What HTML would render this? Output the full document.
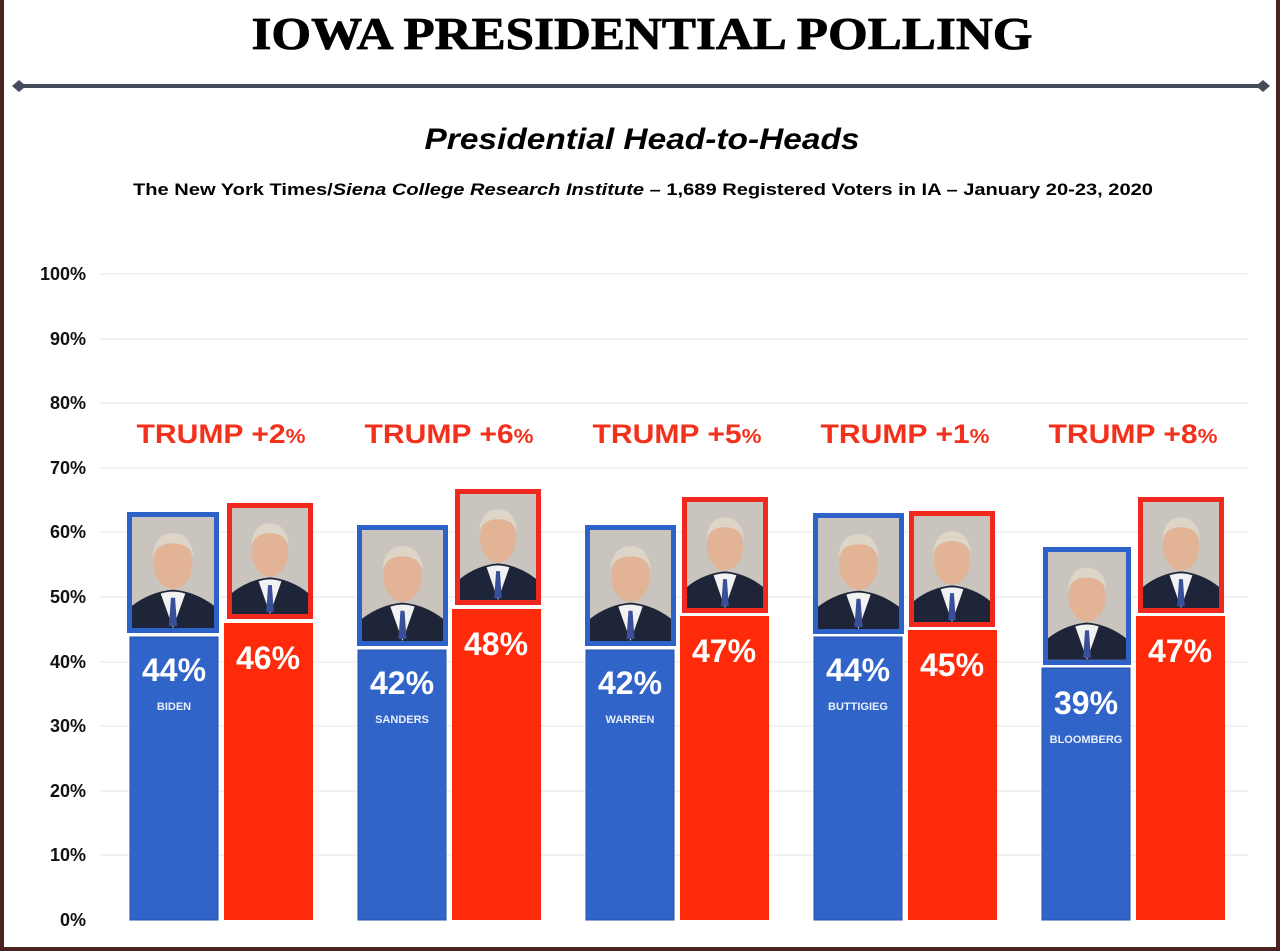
<!DOCTYPE html>
<html><head><meta charset="utf-8"><style>
html,body{margin:0;padding:0;background:#fff}
svg{display:block}
text{font-family:"Liberation Sans",sans-serif}
</style></head><body>
<svg width="1280" height="951" viewBox="0 0 1280 951" xmlns="http://www.w3.org/2000/svg">
<defs>
<g id="pt">
<rect x="0" y="0" width="80" height="110" fill="#c9c4bd"/>
<path d="M0,110 L0,88 Q18,74 40,72 Q62,74 80,88 L80,110Z" fill="#1f2538"/>
<path d="M28,76 L40,110 L52,76 Q40,72 28,76Z" fill="#f2f2f2"/>
<path d="M38,80 L42,80 L44,108 L36,108Z" fill="#3a4f9a"/>
<ellipse cx="40" cy="46" rx="19" ry="25" fill="#e3b396"/>
<path d="M20,40 Q22,16 40,16 Q58,16 60,40 Q56,26 40,26 Q24,26 20,40Z" fill="#ddd6c8"/>
</g>
</defs>
<rect x="0" y="0" width="1280" height="951" fill="#fff"/>
<rect x="0" y="0" width="4" height="951" fill="#4a2320"/>
<rect x="1276" y="0" width="4" height="951" fill="#4a2320"/>
<rect x="0" y="947" width="1280" height="4" fill="#4a2320"/>
<text x="642" y="49" text-anchor="middle" font-weight="bold" font-size="46" textLength="781" lengthAdjust="spacingAndGlyphs" stroke="#000" stroke-width="0.8" style="font-family:'Liberation Serif',serif">IOWA PRESIDENTIAL POLLING</text>
<rect x="18" y="84" width="1246" height="4" fill="#434a5a"/>
<path d="M12,86 L19,80 L26,86 L19,92Z" fill="#434a5a"/>
<path d="M1256,86 L1263,80 L1270,86 L1263,92Z" fill="#434a5a"/>
<text x="642" y="149" text-anchor="middle" font-weight="bold" font-style="italic" font-size="30" textLength="435" lengthAdjust="spacingAndGlyphs">Presidential Head-to-Heads</text>
<text x="643" y="195" text-anchor="middle" font-weight="bold" font-size="17" textLength="1020" lengthAdjust="spacingAndGlyphs">The New York Times/<tspan font-style="italic">Siena College Research Institute</tspan> – 1,689 Registered Voters in IA – January 20-23, 2020</text>
<g stroke="#eeeeee" stroke-width="1.5">
<line x1="100" x2="1248" y1="274" y2="274"/><line x1="100" x2="1248" y1="339" y2="339"/><line x1="100" x2="1248" y1="403" y2="403"/><line x1="100" x2="1248" y1="468" y2="468"/><line x1="100" x2="1248" y1="532" y2="532"/><line x1="100" x2="1248" y1="597" y2="597"/><line x1="100" x2="1248" y1="662" y2="662"/><line x1="100" x2="1248" y1="726" y2="726"/><line x1="100" x2="1248" y1="791" y2="791"/><line x1="100" x2="1248" y1="855" y2="855"/>
</g>
<g font-weight="bold" font-size="18" fill="#111" text-anchor="end">
<text x="86" y="280">100%</text><text x="86" y="345">90%</text><text x="86" y="409">80%</text><text x="86" y="474">70%</text><text x="86" y="538">60%</text><text x="86" y="603">50%</text><text x="86" y="668">40%</text><text x="86" y="732">30%</text><text x="86" y="797">20%</text><text x="86" y="861">10%</text><text x="86" y="926">0%</text>
</g>
<g font-weight="bold" font-size="27" fill="#f2301c" text-anchor="middle">
<text x="221" y="443" textLength="169" lengthAdjust="spacingAndGlyphs">TRUMP +2<tspan font-size="20">%</tspan></text>
<text x="449" y="443" textLength="169" lengthAdjust="spacingAndGlyphs">TRUMP +6<tspan font-size="20">%</tspan></text>
<text x="677" y="443" textLength="169" lengthAdjust="spacingAndGlyphs">TRUMP +5<tspan font-size="20">%</tspan></text>
<text x="905" y="443" textLength="169" lengthAdjust="spacingAndGlyphs">TRUMP +1<tspan font-size="20">%</tspan></text>
<text x="1133" y="443" textLength="169" lengthAdjust="spacingAndGlyphs">TRUMP +8<tspan font-size="20">%</tspan></text>
</g>
<g>
<rect x="130" y="637" width="88" height="283" fill="#3064c8" stroke="#2452a8"/>
<rect x="224" y="623" width="89" height="297" fill="#ff2a0a"/>
<rect x="358" y="650" width="88" height="270" fill="#3064c8" stroke="#2452a8"/>
<rect x="452" y="609" width="89" height="311" fill="#ff2a0a"/>
<rect x="586" y="650" width="88" height="270" fill="#3064c8" stroke="#2452a8"/>
<rect x="680" y="616" width="89" height="304" fill="#ff2a0a"/>
<rect x="814" y="637" width="88" height="283" fill="#3064c8" stroke="#2452a8"/>
<rect x="908" y="630" width="89" height="290" fill="#ff2a0a"/>
<rect x="1042" y="668" width="88" height="252" fill="#3064c8" stroke="#2452a8"/>
<rect x="1136" y="616" width="89" height="304" fill="#ff2a0a"/>
</g>
<g>
<rect x="127" y="512" width="92" height="121" fill="#2d62c9"/><use href="#pt" transform="translate(132,517) scale(1.025,1.009)"/>
<rect x="227" y="503" width="86" height="116" fill="#f0281e"/><use href="#pt" transform="translate(232,508) scale(0.95,0.964)"/>
<rect x="357" y="525" width="91" height="121" fill="#2d62c9"/><use href="#pt" transform="translate(362,530) scale(1.0125,1.009)"/>
<rect x="455" y="489" width="86" height="116" fill="#f0281e"/><use href="#pt" transform="translate(460,494) scale(0.95,0.964)"/>
<rect x="585" y="525" width="91" height="121" fill="#2d62c9"/><use href="#pt" transform="translate(590,530) scale(1.0125,1.009)"/>
<rect x="682" y="497" width="86" height="116" fill="#f0281e"/><use href="#pt" transform="translate(687,502) scale(0.95,0.964)"/>
<rect x="813" y="513" width="91" height="121" fill="#2d62c9"/><use href="#pt" transform="translate(818,518) scale(1.0125,1.009)"/>
<rect x="909" y="511" width="86" height="116" fill="#f0281e"/><use href="#pt" transform="translate(914,516) scale(0.95,0.964)"/>
<rect x="1043" y="547" width="88" height="118" fill="#2d62c9"/><use href="#pt" transform="translate(1048,552) scale(0.975,0.98)"/>
<rect x="1138" y="497" width="86" height="116" fill="#f0281e"/><use href="#pt" transform="translate(1143,502) scale(0.95,0.964)"/>
</g>
<g fill="#fff" font-weight="bold" text-anchor="middle">
<g font-size="32">
<text x="174" y="681">44%</text><text x="268" y="669">46%</text>
<text x="402" y="694">42%</text><text x="496" y="655">48%</text>
<text x="630" y="694">42%</text><text x="724" y="662">47%</text>
<text x="858" y="681">44%</text><text x="952" y="676">45%</text>
<text x="1086" y="714">39%</text><text x="1180" y="662">47%</text>
</g>
<g font-size="11" fill="#e8eefa">
<text x="174" y="710">BIDEN</text>
<text x="402" y="723">SANDERS</text>
<text x="630" y="723">WARREN</text>
<text x="858" y="710">BUTTIGIEG</text>
<text x="1086" y="743">BLOOMBERG</text>
</g>
</g>
</svg>
</body></html>
